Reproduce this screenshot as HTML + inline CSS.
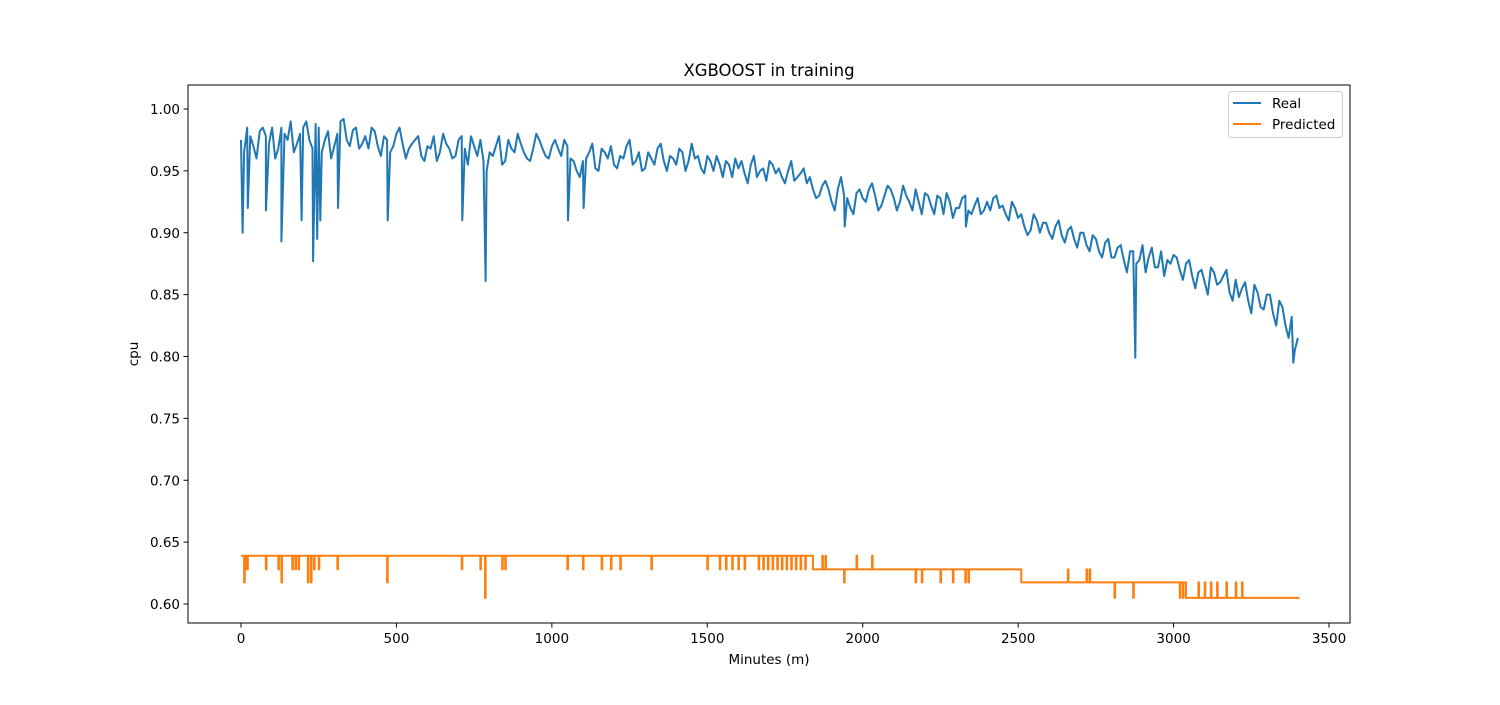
<!DOCTYPE html>
<html><head><meta charset="utf-8"><style>
body{margin:0;background:#fff;}
svg text{font-family:"DejaVu Sans","Liberation Sans",sans-serif;fill:#000;}
</style></head><body>
<svg width="1500" height="700" viewBox="0 0 1500 700" xmlns="http://www.w3.org/2000/svg">
<rect x="0" y="0" width="1500" height="700" fill="#fff"/>
<text x="769" y="76" font-size="16.5" text-anchor="middle">XGBOOST in training</text>
<g id="axes"></g>
<g id="series"></g>
<rect x="188" y="85" width="1162" height="538" fill="none" stroke="#000" stroke-width="1"/>
<text x="769" y="664" font-size="13.5" text-anchor="middle">Minutes (m)</text>
<text x="138" y="354" font-size="13.5" text-anchor="middle" transform="rotate(-90 138 354)">cpu</text>
<g>
<rect x="1228.5" y="91.5" width="114" height="46" rx="3" fill="#fff" stroke="#ccc"/>
<line x1="1233" y1="103" x2="1261" y2="103" stroke="#1f77b4" stroke-width="2"/>
<text x="1272" y="108" font-size="13.5">Real</text>
<line x1="1233" y1="124" x2="1261" y2="124" stroke="#ff7f0e" stroke-width="2"/>
<text x="1272" y="129" font-size="13.5">Predicted</text>
</g>
</svg>
<script>
const xTicks = [0,500,1000,1500,2000,2500,3000,3500];
const yTicks = [0.60,0.65,0.70,0.75,0.80,0.85,0.90,0.95,1.00];
const realStart = 0;
const realStep = 20;
const realValues = [
.975,.985,.970,.982,.978,.985,.968,.980,.990,.972,.985,
.975,.988,.965,.982,.970,.990,.975,.983,.968,.978,
.985,.970,.978,.965,.980,.972,.968,.975,.962,.970,
.978,.965,.972,.960,.975,.968,.978,.962,.958,.965,
.970,.955,.975,.965,.972,.960,.968,.975,.962,.970,
.968,.975,.960,.950,.958,.965,.952,.968,.960,.955,
.962,.970,.955,.965,.952,.960,.968,.958,.962,.955,
.965,.958,.960,.952,.962,.950,.955,.958,.945,.952,
.948,.955,.945,.952,.958,.948,.945,.950,.942,.948,
.940,.935,.930,.942,.925,.935,.930,.920,.932,.928,
.935,.930,.922,.938,.928,.925,.930,.918,.925,.932,
.922,.930,.915,.925,.920,.928,.918,.922,.915,.925,
.928,.920,.915,.925,.912,.905,.902,.910,.908,.900,
.905,.898,.902,.895,.900,.890,.898,.885,.892,.880,
.888,.878,.885,.875,.890,.880,.872,.885,.878,.882,
.870,.875,.865,.868,.860,.872,.858,.865,.852,.862,
.855,.845,.858,.840,.850,.835,.845,.825,.832,.815];
const realMidStart = 10;
const realMidValues = [
.965,.978,.960,.985,.972,.960,.985,.975,.965,.980,
.990,.968,.985,.975,.960,.980,.992,.970,.985,.972,
.968,.982,.962,.975,.970,.985,.960,.972,.978,.958,
.968,.958,.980,.968,.962,.978,.955,.970,.975,.950,
.962,.978,.958,.968,.980,.965,.958,.980,.968,.960,
.975,.962,.970,.958,.945,.960,.972,.950,.965,.970,
.952,.960,.975,.958,.950,.965,.955,.972,.950,.960,
.968,.950,.972,.962,.948,.958,.962,.945,.955,.960,
.958,.940,.962,.950,.942,.955,.952,.940,.958,.945,
.952,.945,.928,.938,.935,.918,.945,.928,.915,.935,
.925,.940,.918,.930,.935,.918,.938,.925,.935,.915,
.930,.915,.928,.932,.912,.920,.930,.915,.928,.918,
.918,.930,.922,.910,.920,.915,.898,.915,.900,.908,
.895,.910,.892,.905,.888,.900,.885,.895,.880,.895,
.880,.890,.868,.885,.878,.868,.888,.872,.865,.875,
.880,.862,.878,.855,.870,.850,.868,.860,.870,.845,
.848,.860,.835,.852,.838,.850,.825,.840,.815,.805];
const realDipMinutes = [5,22,80,130,195,232,245,255,312,472,712,787,1052,1102,1942,2332,2877,3385];
const realDipValues = [.900,.920,.918,.893,.910,.877,.895,.910,.920,.910,.910,.861,.910,.920,.905,.905,.799,.795];
const predStepMinutes = [0,1840,2510,3040];
const predStepValues = [.639,.628,.6175,.605];
const predEnd = 3405;
const predSpikeMinutes = [10,15,20,80,120,130,165,175,185,215,225,235,250,310,470,710,770,785,840,850,1050,1100,1160,1190,1220,1320,1500,1540,1560,1580,1600,1620,1665,1680,1695,1710,1725,1740,1755,1770,1785,1800,1815,1870,1880,1940,1980,2030,2170,2190,2250,2290,2330,2340,2515,2525,2535,2545,2555,2565,2575,2585,2600,2620,2660,2720,2730,2810,2870,3020,3030,3050,3060,3080,3100,3120,3140,3170,3200,3220];
const predSpikeValues = [.6175,.628,.628,.628,.628,.6175,.628,.628,.628,.6175,.6175,.628,.628,.628,.6175,.628,.628,.605,.628,.628,.628,.628,.628,.628,.628,.628,.628,.628,.628,.628,.628,.628,.628,.628,.628,.628,.628,.628,.628,.628,.628,.628,.628,.639,.639,.6175,.639,.639,.6175,.6175,.6175,.6175,.6175,.6175,.6175,.6175,.6175,.6175,.6175,.6175,.6175,.6175,.6175,.6175,.628,.628,.628,.605,.605,.605,.605,.605,.605,.6175,.6175,.6175,.6175,.6175,.6175,.6175];

const X0=241, XS=(1329-241)/3500;
const Y0=109, YS=(604-109)/0.40;
const xPos = m => X0 + m*XS;
const yPos = v => Y0 + (1.00 - v)*YS;
const NS='http://www.w3.org/2000/svg';
const axes=document.getElementById('axes'), series=document.getElementById('series');
function mk(tag,attrs,parent){const e=document.createElementNS(NS,tag);for(const k in attrs)e.setAttribute(k,attrs[k]);parent.appendChild(e);return e;}

xTicks.forEach(t=>{
  const g=mk('g',{},axes);
  
  
  mk('line',{x1:xPos(t),x2:xPos(t),y1:623,y2:627.5,stroke:'#000'},g);
  const tx=mk('text',{x:xPos(t),y:643,'font-size':13.5,'text-anchor':'middle'},g);
  tx.textContent=t;
});
yTicks.forEach(t=>{
  const g=mk('g',{},axes);
  
  
  mk('line',{x1:183.5,x2:188,y1:yPos(t),y2:yPos(t),stroke:'#000'},g);
  const tx=mk('text',{x:180,y:yPos(t)+5,'font-size':13.5,'text-anchor':'end'},g);
  tx.textContent=t.toFixed(2);
});

const pts=[];
realValues.forEach((v,i)=>pts.push([realStart+i*realStep,v]));
realMidValues.forEach((v,i)=>pts.push([realMidStart+i*realStep,v]));
realDipMinutes.forEach((m,i)=>pts.push([m,realDipValues[i]]));
pts.sort((a,b)=>a[0]-b[0]);
const dReal=pts.map((p,i)=>(i?'L':'M')+xPos(p[0]).toFixed(1)+' '+yPos(p[1]).toFixed(1)).join(' ');
const realPath=mk('path',{d:dReal,fill:'none',stroke:'#1f77b4','stroke-width':2,'stroke-linejoin':'round'},series);



function base(m){let v=predStepValues[0];predStepMinutes.forEach((s,i)=>{if(m>=s)v=predStepValues[i];});return v;}
const ev=[];
predStepMinutes.forEach(m=>ev.push({m:m,step:true}));
predSpikeMinutes.forEach((m,i)=>ev.push({m:m,v:predSpikeValues[i]}));
ev.sort((a,b)=>a.m-b.m);
let d='M'+xPos(0)+' '+yPos(base(0));
ev.forEach(e=>{
  if(e.step){ if(e.m>0){d+=' L'+xPos(e.m)+' '+yPos(base(e.m-0.01))+' L'+xPos(e.m)+' '+yPos(base(e.m));} }
  else { const b=base(e.m); d+=' L'+xPos(e.m)+' '+yPos(b)+' L'+xPos(e.m)+' '+yPos(e.v)+' L'+xPos(e.m+2)+' '+yPos(e.v)+' L'+xPos(e.m+2)+' '+yPos(b); }
});
d+=' L'+xPos(predEnd)+' '+yPos(base(predEnd));
const predPath=mk('path',{d:d,fill:'none',stroke:'#ff7f0e','stroke-width':2,'stroke-linejoin':'round'},series);


</script>
</body></html>
